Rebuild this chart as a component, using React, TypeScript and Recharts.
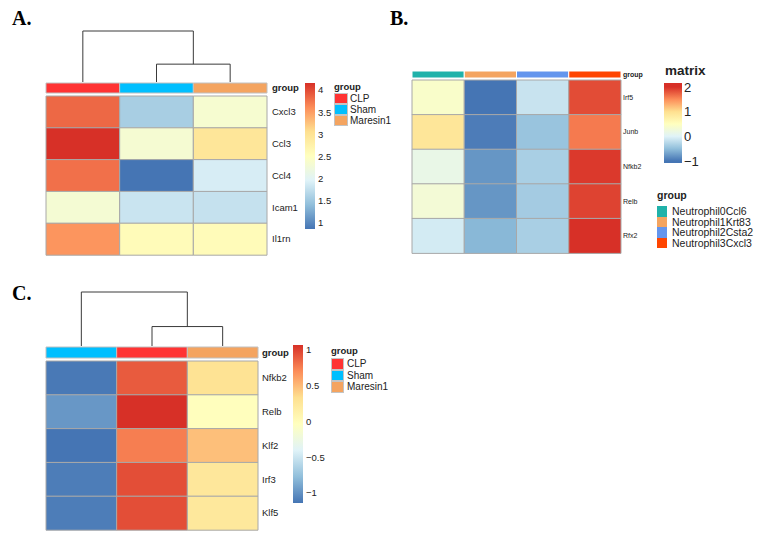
import React from 'react';
import { BarChart, Bar, Cell, XAxis, YAxis, LineChart, Line } from 'recharts';

const FONT = '"Liberation Sans", Arial, sans-serif';
const SERIF = '"Liberation Serif", "Times New Roman", serif';
const PALETTE = ['#4575B4', '#91BFDB', '#E0F3F8', '#FFFFBF', '#FEE090', '#FC8D59', '#D73027'];

// ---------- Panel A ----------
const A_GENES = ['Cxcl3', 'Ccl3', 'Ccl4', 'Icam1', 'Il1rn'];
const A_COLS = ['CLP', 'Sham', 'Maresin1'];
const A_COL_COLORS = ['#FF3333', '#00BFFF', '#F4A460'];
const A_CLP = [3.83, 4.16, 3.78, 2.32, 3.56];
const A_SHAM = [1.57, 2.33, 0.86, 1.8, 2.58];
const A_MARESIN1 = [2.35, 2.95, 1.9, 1.77, 2.58];
const A_RANGE = [0.86, 4.16];
const A_TICKS = [1, 1.5, 2, 2.5, 3, 3.5, 4];
const A_TICK_LABELS = ['1', '1.5', '2', '2.5', '3', '3.5', '4'];
const A_LEGEND = ['CLP', 'Sham', 'Maresin1'];
const A_LEGEND_COLORS = ['#FF3333', '#00BFFF', '#F4A460'];
const A_MERGES = [
  { a: 1.5, b: 2.5, ha: 0, hb: 0, h: 0.35 },
  { a: 0.5, b: 2.0, ha: 0, hb: 0.35, h: 1 },
];

// ---------- Panel B ----------
const B_GENES = ['Irf5', 'Junb', 'Nfkb2', 'Relb', 'Rfx2'];
const B_COLS = ['Neutrophil0Ccl6', 'Neutrophil1Krt83', 'Neutrophil2Csta2', 'Neutrophil3Cxcl3'];
const B_COL_COLORS = ['#20B2AA', '#F4A460', '#6495ED', '#FF4500'];
const B_N0 = [0.4, 0.9, 0.15, 0.3, -0.08];
const B_N1 = [-1.0, -0.95, -0.78, -0.78, -0.55];
const B_N2 = [-0.15, -0.45, -0.35, -0.38, -0.35];
const B_N3 = [1.85, 1.6, 1.95, 1.9, 2.1];
const B_COLOR_RANGE = [-1, 2];
const B_RANGE = [-1.08, 2.16];
const B_TICKS = [-1, 0, 1, 2];
const B_TICK_LABELS = ['\u22121', '0', '1', '2'];

// ---------- Panel C ----------
const C_GENES = ['Nfkb2', 'Relb', 'Klf2', 'Irf3', 'Klf5'];
const C_COLS = ['Sham', 'CLP', 'Maresin1'];
const C_COL_COLORS = ['#00BFFF', '#FF3333', '#F4A460'];
const C_SHAM = [-1.12, -0.97, -1.14, -1.1, -1.1];
const C_CLP = [0.9, 1.07, 0.76, 0.95, 0.95];
const C_MARESIN1 = [0.3, -0.02, 0.48, 0.25, 0.24];
const C_RANGE = [-1.14, 1.07];
const C_TICKS = [-1, -0.5, 0, 0.5, 1];
const C_TICK_LABELS = ['\u22121', '\u22120.5', '0', '0.5', '1'];
const C_LEGEND = ['CLP', 'Sham', 'Maresin1'];
const C_LEGEND_COLORS = ['#FF3333', '#00BFFF', '#F4A460'];
const C_MERGES = [
  { a: 1.5, b: 2.5, ha: 0, hb: 0, h: 0.36 },
  { a: 0.5, b: 2.0, ha: 0, hb: 0.36, h: 1 },
];

function hexToRgb(h: string) {
  const n = parseInt(h.slice(1), 16);
  return [(n >> 16) & 255, (n >> 8) & 255, n & 255];
}
function colorOf(v: number, cmin: number, cmax: number) {
  let t = (v - cmin) / (cmax - cmin);
  t = Math.max(0, Math.min(1, t)) * (PALETTE.length - 1);
  const k = Math.min(PALETTE.length - 2, Math.floor(t));
  const f = t - k;
  const a = hexToRgb(PALETTE[k]);
  const b = hexToRgb(PALETTE[k + 1]);
  const c = a.map((x, i) => Math.round(x + (b[i] - x) * f));
  return `rgb(${c[0]},${c[1]},${c[2]})`;
}

type GridProps = {
  left: number; top: number; cw: number; rh: number;
  rows: string[]; fills: string[][]; labelW: number; fontSize: number;
  labelGap: number; stroke: string; bold?: boolean;
};
function Grid({ left, top, cw, rh, rows, fills, labelW, fontSize, labelGap, stroke, bold }: GridProps) {
  const n = fills.length;
  const data = rows.map((r) => {
    const o: any = { name: r };
    fills.forEach((_, j) => { o['c' + j] = 1; });
    return o;
  });
  return (
    <div style={{ position: 'absolute', left: left - 1, top: top - 1 }}>
      <BarChart layout="vertical" width={n * cw + 1 + labelW} height={rows.length * rh + 2} data={data}
        margin={{ top: 1, bottom: 1, left: 1, right: 0 }} barCategoryGap={0} barGap={0}>
        <XAxis type="number" domain={[0, n]} hide />
        <YAxis type="category" dataKey="name" orientation="right" width={labelW} axisLine={false}
          tickLine={false} tickSize={0} tickMargin={labelGap} interval={0}
          tick={{ fontSize, fill: '#222', fontFamily: FONT, fontWeight: bold ? 'bold' : 'normal' }} />
        {fills.map((col, j) => (
          <Bar key={j} dataKey={'c' + j} stackId="s" isAnimationActive={false} stroke={stroke} strokeWidth={1}>
            {col.map((f, i) => <Cell key={i} fill={f} />)}
          </Bar>
        ))}
      </BarChart>
    </div>
  );
}

type DendroProps = { left: number; top: number; width: number; height: number; n: number; merges: typeof A_MERGES };
function Dendrogram({ left, top, width, height, n, merges }: DendroProps) {
  const segs = merges.map((m) => [
    { x: m.a, y: m.ha }, { x: m.a, y: m.h }, { x: m.b, y: m.h }, { x: m.b, y: m.hb },
  ]);
  return (
    <div style={{ position: 'absolute', left, top: top - 1 }}>
      <LineChart width={width} height={height + 2} margin={{ top: 1, bottom: 1, left: 0, right: 0 }}>
        <XAxis type="number" dataKey="x" domain={[0, n]} hide />
        <YAxis type="number" domain={[0, 1]} hide />
        {segs.map((s, k) => (
          <Line key={k} data={s} dataKey="y" stroke="#3a3a3a" strokeWidth={1} dot={false}
            isAnimationActive={false} type="linear" />
        ))}
      </LineChart>
    </div>
  );
}

type CBProps = {
  id: string; left: number; top: number; width: number; height: number; range: number[];
  crange: number[]; ticks: number[]; labels: string[]; fontSize: number; labelGap: number; whiteTicks?: boolean;
};
function ColorBar({ id, left, top, width, height, range, crange, ticks, labels, fontSize, labelGap, whiteTicks }: CBProps) {
  const data = [{ name: 'bar', v: [range[0], range[1]] }];
  const stops = PALETTE.map((c, k) => {
    const val = crange[0] + (k * (crange[1] - crange[0])) / (PALETTE.length - 1);
    return { c, off: (val - range[0]) / (range[1] - range[0]) };
  });
  const axisW = 50;
  const pad = 12;
  return (
    <div style={{ position: 'absolute', left, top: top - pad }}>
      <BarChart width={width + axisW} height={height + 2 * pad} data={data}
        margin={{ top: pad, right: 0, bottom: pad, left: 0 }} barCategoryGap={0} barGap={0}>
        <defs>
          <linearGradient id={id} x1="0" y1="1" x2="0" y2="0">
            {stops.map((s, i) => <stop key={i} offset={Math.max(0, Math.min(1, s.off))} stopColor={s.c} />)}
          </linearGradient>
        </defs>
        <XAxis dataKey="name" type="category" hide />
        <YAxis yAxisId="r" orientation="right" type="number" domain={range} ticks={ticks} width={axisW}
          axisLine={false} tickLine={false} tickSize={0} tickMargin={labelGap} interval={0} allowDataOverflow
          tickFormatter={(v: number) => labels[ticks.indexOf(v)]}
          tick={{ fontSize, fill: '#222', fontFamily: FONT }} />
        <Bar yAxisId="r" dataKey="v" fill={`url(#${id})`} isAnimationActive={false} />
        {whiteTicks && (
          <YAxis yAxisId="wl" orientation="left" mirror type="number" domain={range} ticks={ticks} width={0}
            axisLine={false} tick={false} tickSize={4} tickLine={{ stroke: '#ffffff', strokeWidth: 1 }}
            interval={0} allowDataOverflow />
        )}
        {whiteTicks && (
          <YAxis yAxisId="wr" orientation="right" mirror type="number" domain={range} ticks={ticks} width={0}
            axisLine={false} tick={false} tickSize={4} tickLine={{ stroke: '#ffffff', strokeWidth: 1 }}
            interval={0} allowDataOverflow />
        )}
      </BarChart>
    </div>
  );
}

type LegProps = {
  left: number; top: number; title: string; titleSize: number; items: string[]; colors: string[];
  swTop: number; swW: number; swH: number; textLeft: number; fontSize: number; border?: boolean;
};
function GroupLegend({ left, top, title, titleSize, items, colors, swTop, swW, swH, textLeft, fontSize, border }: LegProps) {
  return (
    <>
      <div style={{ position: 'absolute', left, top: top - 8, height: 16, lineHeight: '16px', fontSize: titleSize,
        fontWeight: 'bold', fontFamily: FONT, color: '#222', whiteSpace: 'nowrap' }}>{title}</div>
      {items.map((it, i) => (
        <React.Fragment key={i}>
          <div style={{ position: 'absolute', left, top: swTop + i * swH, width: swW, height: swH, background: colors[i],
            boxSizing: 'border-box', border: border ? '1px solid #c4c4c4' : 'none' }} />
          <div style={{ position: 'absolute', left: textLeft, top: swTop + i * swH, height: swH, lineHeight: swH + 'px',
            fontSize, fontFamily: FONT, color: '#222', whiteSpace: 'nowrap' }}>{it}</div>
        </React.Fragment>
      ))}
    </>
  );
}

function PanelLabel({ text, left, top }: { text: string; left: number; top: number }) {
  return (
    <div style={{ position: 'absolute', left, top, fontFamily: SERIF, fontWeight: 'bold', fontSize: 20,
      lineHeight: '20px', color: '#000' }}>{text}</div>
  );
}

export default function App() {
  const aVals = [A_CLP, A_SHAM, A_MARESIN1];
  const bVals = [B_N0, B_N1, B_N2, B_N3];
  const cVals = [C_SHAM, C_CLP, C_MARESIN1];
  const aFills = aVals.map((col) => col.map((v) => colorOf(v, A_RANGE[0], A_RANGE[1])));
  const bFills = bVals.map((col) => col.map((v) => colorOf(v, B_COLOR_RANGE[0], B_COLOR_RANGE[1])));
  const cFills = cVals.map((col) => col.map((v) => colorOf(v, C_RANGE[0], C_RANGE[1])));
  const GRID = '#a8a8a8';
  return (
    <div style={{ position: 'absolute', left: 0, top: 0, width: 763, height: 541, background: '#fff', overflow: 'hidden' }}>
      {/* Panel A */}
      <PanelLabel text="A." left={12} top={8} />
      <Dendrogram left={46} top={31} width={221} height={51} n={3} merges={A_MERGES} />
      <Grid left={46} top={83} cw={221 / 3} rh={10} rows={['group']} fills={A_COL_COLORS.map((c) => [c])}
        labelW={45} fontSize={9.5} labelGap={5} stroke="#c0c0c0" bold />
      <Grid left={46} top={96} cw={221 / 3} rh={159 / 5} rows={A_GENES} fills={aFills}
        labelW={45} fontSize={9.5} labelGap={5} stroke={GRID} />
      <ColorBar id="gA" left={305} top={83} width={10} height={146} range={A_RANGE} crange={A_RANGE}
        ticks={A_TICKS} labels={A_TICK_LABELS} fontSize={9.5} labelGap={3} />
      <GroupLegend left={334} top={87} title="group" titleSize={9.5} items={A_LEGEND} colors={A_LEGEND_COLORS}
        swTop={93} swW={14} swH={11} textLeft={350} fontSize={10} border />

      {/* Panel B */}
      <PanelLabel text="B." left={390} top={8} />
      <Grid left={412} top={71} cw={209 / 4} rh={7} rows={['group']} fills={B_COL_COLORS.map((c) => [c])}
        labelW={30} fontSize={7} labelGap={2} stroke="#ffffff" bold />
      <Grid left={412} top={80} cw={209 / 4} rh={173 / 5} rows={B_GENES} fills={bFills}
        labelW={30} fontSize={7} labelGap={2} stroke={GRID} />
      <div style={{ position: 'absolute', left: 665, top: 62, height: 18, lineHeight: '18px', fontSize: 13.5,
        fontWeight: 'bold', fontFamily: FONT, color: '#222' }}>matrix</div>
      <ColorBar id="gB" left={664} top={83} width={18} height={80} range={B_RANGE} crange={B_COLOR_RANGE}
        ticks={B_TICKS} labels={B_TICK_LABELS} fontSize={13} labelGap={2} whiteTicks />
      <GroupLegend left={657} top={195} title="group" titleSize={10.5} items={B_COLS} colors={B_COL_COLORS}
        swTop={206} swW={10} swH={10.5} textLeft={672} fontSize={10.5} />

      {/* Panel C */}
      <PanelLabel text="C." left={12} top={283} />
      <Dendrogram left={46} top={292} width={212} height={54} n={3} merges={C_MERGES} />
      <Grid left={46} top={347} cw={212 / 3} rh={11} rows={['group']} fills={C_COL_COLORS.map((c) => [c])}
        labelW={45} fontSize={9.5} labelGap={4} stroke="#c0c0c0" bold />
      <Grid left={46} top={361} cw={212 / 3} rh={169 / 5} rows={C_GENES} fills={cFills}
        labelW={45} fontSize={9.5} labelGap={4} stroke={GRID} />
      <ColorBar id="gC" left={293} top={345} width={10} height={158} range={C_RANGE} crange={C_RANGE}
        ticks={C_TICKS} labels={C_TICK_LABELS} fontSize={9.5} labelGap={3} />
      <GroupLegend left={331} top={351} title="group" titleSize={9.5} items={C_LEGEND} colors={C_LEGEND_COLORS}
        swTop={358} swW={13} swH={11.5} textLeft={347} fontSize={10} border />
    </div>
  );
}
